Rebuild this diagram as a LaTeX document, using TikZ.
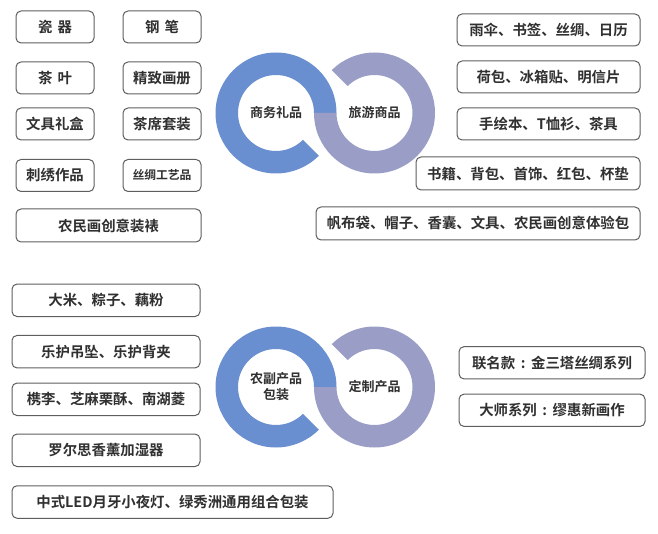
\documentclass[tikz,border=0pt]{standalone}
\usepackage{fontspec}
\setmainfont{Noto Sans CJK SC}[BoldFont={* Bold}]
\usetikzlibrary{calc}
\definecolor{ringblue}{HTML}{6A8FD0}
\definecolor{ringpurple}{HTML}{9A9EC6}
\definecolor{boxline}{HTML}{5E5E5E}
\definecolor{txt}{HTML}{303030}
\newcommand{\fwcolon}{\makebox[1.1em][c]{:}}
\tikzset{
  itembox/.style={draw=boxline, line width=1pt, rounded corners=5pt, fill=white,
    inner sep=0pt, text=txt, font=\bfseries\fontsize{14.4}{17}\selectfont},
  sbox/.style={itembox, minimum width=78pt, minimum height=32pt},
  ringlabel/.style={text=txt, align=center, inner sep=0pt,
    font=\bfseries\fontsize{13}{16}\selectfont}
}
\begin{document}
\begin{tikzpicture}[x=1pt,y=1pt]
\useasboundingbox (0,0) rectangle (658,-534);
\def\ro{60.5}
\def\ri{38}
% ---------- top rings ----------
\coordinate (tl) at (276,-113);
\coordinate (tr) at (374.5,-113);
\fill[ringblue] ($(tl)+(0:\ro)$) arc[start angle=0,end angle=315,radius=\ro]
  -- ($(tl)+(315:\ri)$) arc[start angle=315,end angle=0,radius=\ri] -- cycle;
\fill[ringpurple] ($(tr)+(180:\ro)$) arc[start angle=180,end angle=495,radius=\ro]
  -- ($(tr)+(495:\ri)$) arc[start angle=495,end angle=180,radius=\ri] -- cycle;
\node[ringlabel] (tll) at (tl) {商务礼品};
\node[ringlabel] (trl) at (tr) {旅游商品};
% ---------- bottom rings ----------
\coordinate (bl) at (276,-387);
\coordinate (br) at (374.5,-387);
\fill[ringblue] ($(bl)+(0:\ro)$) arc[start angle=0,end angle=315,radius=\ro]
  -- ($(bl)+(315:\ri)$) arc[start angle=315,end angle=0,radius=\ri] -- cycle;
\fill[ringpurple] ($(br)+(180:\ro)$) arc[start angle=180,end angle=495,radius=\ro]
  -- ($(br)+(495:\ri)$) arc[start angle=495,end angle=180,radius=\ri] -- cycle;
\node[ringlabel] (bll) at (bl) {农副产品\\包装};
\node[ringlabel] (brl) at (br) {定制产品};
% ---------- top-left boxes ----------
\node[sbox] (b1) at (55,-27) {瓷\hspace{0.35em}器};
\node[sbox] (b2) at (162,-27) {钢\hspace{0.35em}笔};
\node[sbox] (b3) at (55,-78) {茶\hspace{0.35em}叶};
\node[sbox] (b4) at (162,-78) {精致画册};
\node[sbox] (b5) at (55,-124) {文具礼盒};
\node[sbox] (b6) at (162,-124) {茶席套装};
\node[sbox] (b7) at (55,-175.5) {刺绣作品};
\node[sbox, font=\bfseries\fontsize{11.8}{14}\selectfont] (b8) at (162,-175.5) {丝绸工艺品};
\node[itembox, minimum width=185pt, minimum height=33pt] (b9) at (108.5,-225.5) {农民画创意装裱};
% ---------- top-right boxes ----------
\node[itembox, minimum width=183pt, minimum height=32pt] (r1) at (548.5,-30) {雨伞、书签、丝绸、日历};
\node[itembox, minimum width=183pt, minimum height=32pt] (r2) at (548.5,-77) {荷包、冰箱贴、明信片};
\node[itembox, minimum width=183pt, minimum height=32pt] (r3) at (548.5,-124) {手绘本、T恤衫、茶具};
\node[itembox, minimum width=224pt, minimum height=33pt] (r4) at (528,-173.5) {书籍、背包、首饰、红包、杯垫};
\node[itembox, minimum width=324pt, minimum height=33pt] (r5) at (478,-223.5) {帆布袋、帽子、香囊、文具、农民画创意体验包};
% ---------- bottom-left boxes ----------
\node[itembox, minimum width=188pt, minimum height=32.5pt] (l1) at (106,-300.3) {大米、粽子、藕粉};
\node[itembox, minimum width=188pt, minimum height=32.5pt] (l2) at (106,-351.7) {乐护吊坠、乐护背夹};
\node[itembox, minimum width=188pt, minimum height=32.5pt] (l3) at (106,-399.3) {槜李、芝麻栗酥、南湖菱};
\node[itembox, minimum width=188pt, minimum height=32.5pt] (l4) at (106,-450.3) {罗尔思香薰加湿器};
\node[itembox, minimum width=321pt, minimum height=32.5pt] (l5) at (172.5,-502) {中式LED月牙小夜灯、绿秀洲通用组合包装};
% ---------- bottom-right boxes ----------
\node[itembox, minimum width=186pt, minimum height=32.3pt] (m1) at (552,-362.8) {联名款\fwcolon 金三塔丝绸系列};
\node[itembox, minimum width=186pt, minimum height=32.3pt] (m2) at (552,-410.3) {大师系列\fwcolon 缪惠新画作};
\end{tikzpicture}
\end{document}
